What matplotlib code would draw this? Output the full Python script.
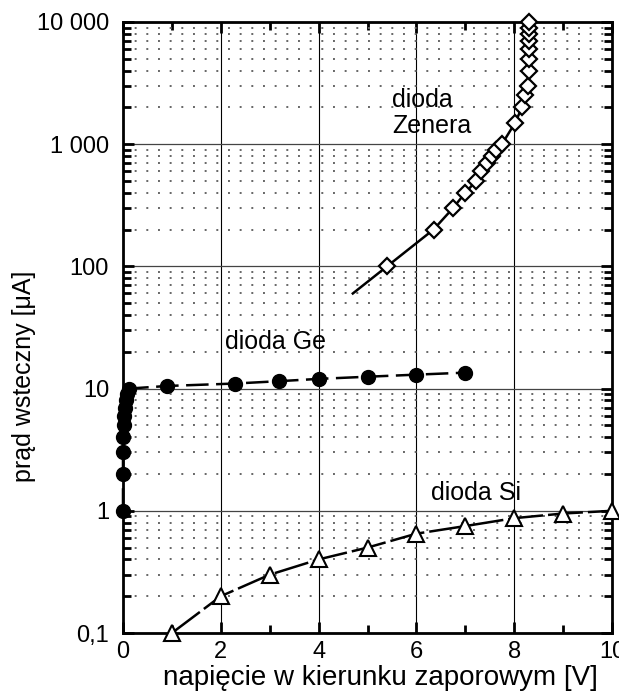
import numpy as np
import matplotlib.pyplot as plt
from matplotlib.ticker import FixedLocator, FixedFormatter, MultipleLocator, NullFormatter

plt.rcParams['font.family'] = ['Liberation Sans', 'DejaVu Sans']

# dioda Ge (napiecie [V], prad [uA])
ge_u = [0, 0, 0, 0, 0.02, 0.03, 0.05, 0.07, 0.09, 0.12, 0.9, 2.3, 3.2, 4.0, 5.0, 6.0, 7.0]
ge_i = [1, 2, 3, 4, 5, 6, 7, 8, 9, 10, 10.5, 11, 11.5, 12, 12.5, 13, 13.5]

# dioda Zenera
zener_u = [5.4, 6.35, 6.75, 7.0, 7.22, 7.32, 7.45, 7.55, 7.63, 7.75, 8.02, 8.16, 8.22,
           8.28, 8.3, 8.3, 8.3, 8.3, 8.3, 8.3, 8.3]
zener_i = [100, 200, 300, 400, 500, 600, 700, 800, 900, 1000, 1500, 2000, 2500,
           3000, 4000, 5000, 6000, 7000, 8000, 9000, 10000]
zener_start = (4.7, 60)  # poczatek linii ponizej pierwszego punktu

# dioda Si
si_u = [1, 2, 3, 4, 5, 6, 7, 8, 9, 10]
si_i = [0.1, 0.2, 0.3, 0.4, 0.5, 0.65, 0.75, 0.87, 0.95, 1.0]

y_ticks = [0.1, 1, 10, 100, 1000, 10000]
y_labels = ["0,1", "1", "10", "100", "1 000", "10 000"]
x_ticks = [0, 2, 4, 6, 8, 10]

fig = plt.figure(figsize=(6.19, 7.0), dpi=100)
ax = fig.add_axes([0.1987, 0.0957, 0.79, 0.873])

ax.set_xscale('linear')
ax.set_yscale('log')
ax.set_xlim(0, 10)
ax.set_ylim(0.1, 10000)

# Zener
ax.plot([zener_start[0]] + zener_u, [zener_start[1]] + zener_i, color='black', lw=1.8,
        zorder=3)
ax.plot(zener_u, zener_i, ls='none', marker='D', ms=8, mfc='white', mec='black', mew=1.6,
        clip_on=False, zorder=4)

# Ge
ax.plot(ge_u, ge_i, color='black', lw=1.8, ls=(0, (9, 3)), marker='o', ms=10,
        mfc='black', mec='black', clip_on=False, zorder=4)

# Si
ax.plot(si_u, si_i, color='black', lw=1.8, ls=(0, (14, 2)), marker='^', ms=11,
        mfc='white', mec='black', mew=1.5, clip_on=False, zorder=4)

ax.yaxis.set_major_locator(FixedLocator(y_ticks))
ax.yaxis.set_major_formatter(FixedFormatter(y_labels))
ax.yaxis.set_minor_locator(FixedLocator(
    [m * 10.0 ** e for e in range(-1, 4) for m in range(2, 10)]))
ax.yaxis.set_minor_formatter(NullFormatter())
ax.xaxis.set_major_locator(FixedLocator(x_ticks))
ax.xaxis.set_minor_locator(MultipleLocator(1))

ax.grid(which='major', axis='y', color='#444444', lw=0.9)
ax.grid(which='major', axis='x', color='black', lw=0.8)
ax.grid(which='minor', axis='y', color='#666666', lw=1.4, ls=(0, (1, 5)))

ax.tick_params(which='both', direction='in', left=True, right=True, top=True,
               bottom=True, width=2, labelsize=17)
ax.tick_params(which='major', length=8)
ax.tick_params(which='minor', length=6)
ax.tick_params(axis='y', pad=10)
ax.tick_params(axis='x', pad=6)
for s in ax.spines.values():
    s.set_linewidth(2)

ax.text(5.5, 1800, "dioda\nZenera", fontsize=18, ha='left', va='center', linespacing=1.15)
ax.text(2.08, 24, "dioda Ge", fontsize=18, ha='left', va='center')
ax.text(6.3, 1.4, "dioda Si", fontsize=18, ha='left', va='center')

ax.set_xlabel("napięcie w kierunku zaporowym [V]", fontsize=20)
ax.set_ylabel("prąd wsteczny [μA]", fontsize=18)
ax.xaxis.set_label_coords(0.526, -0.052)
ax.yaxis.set_label_coords(-0.178, 0.42)

fig.savefig("out.png", dpi=100)
